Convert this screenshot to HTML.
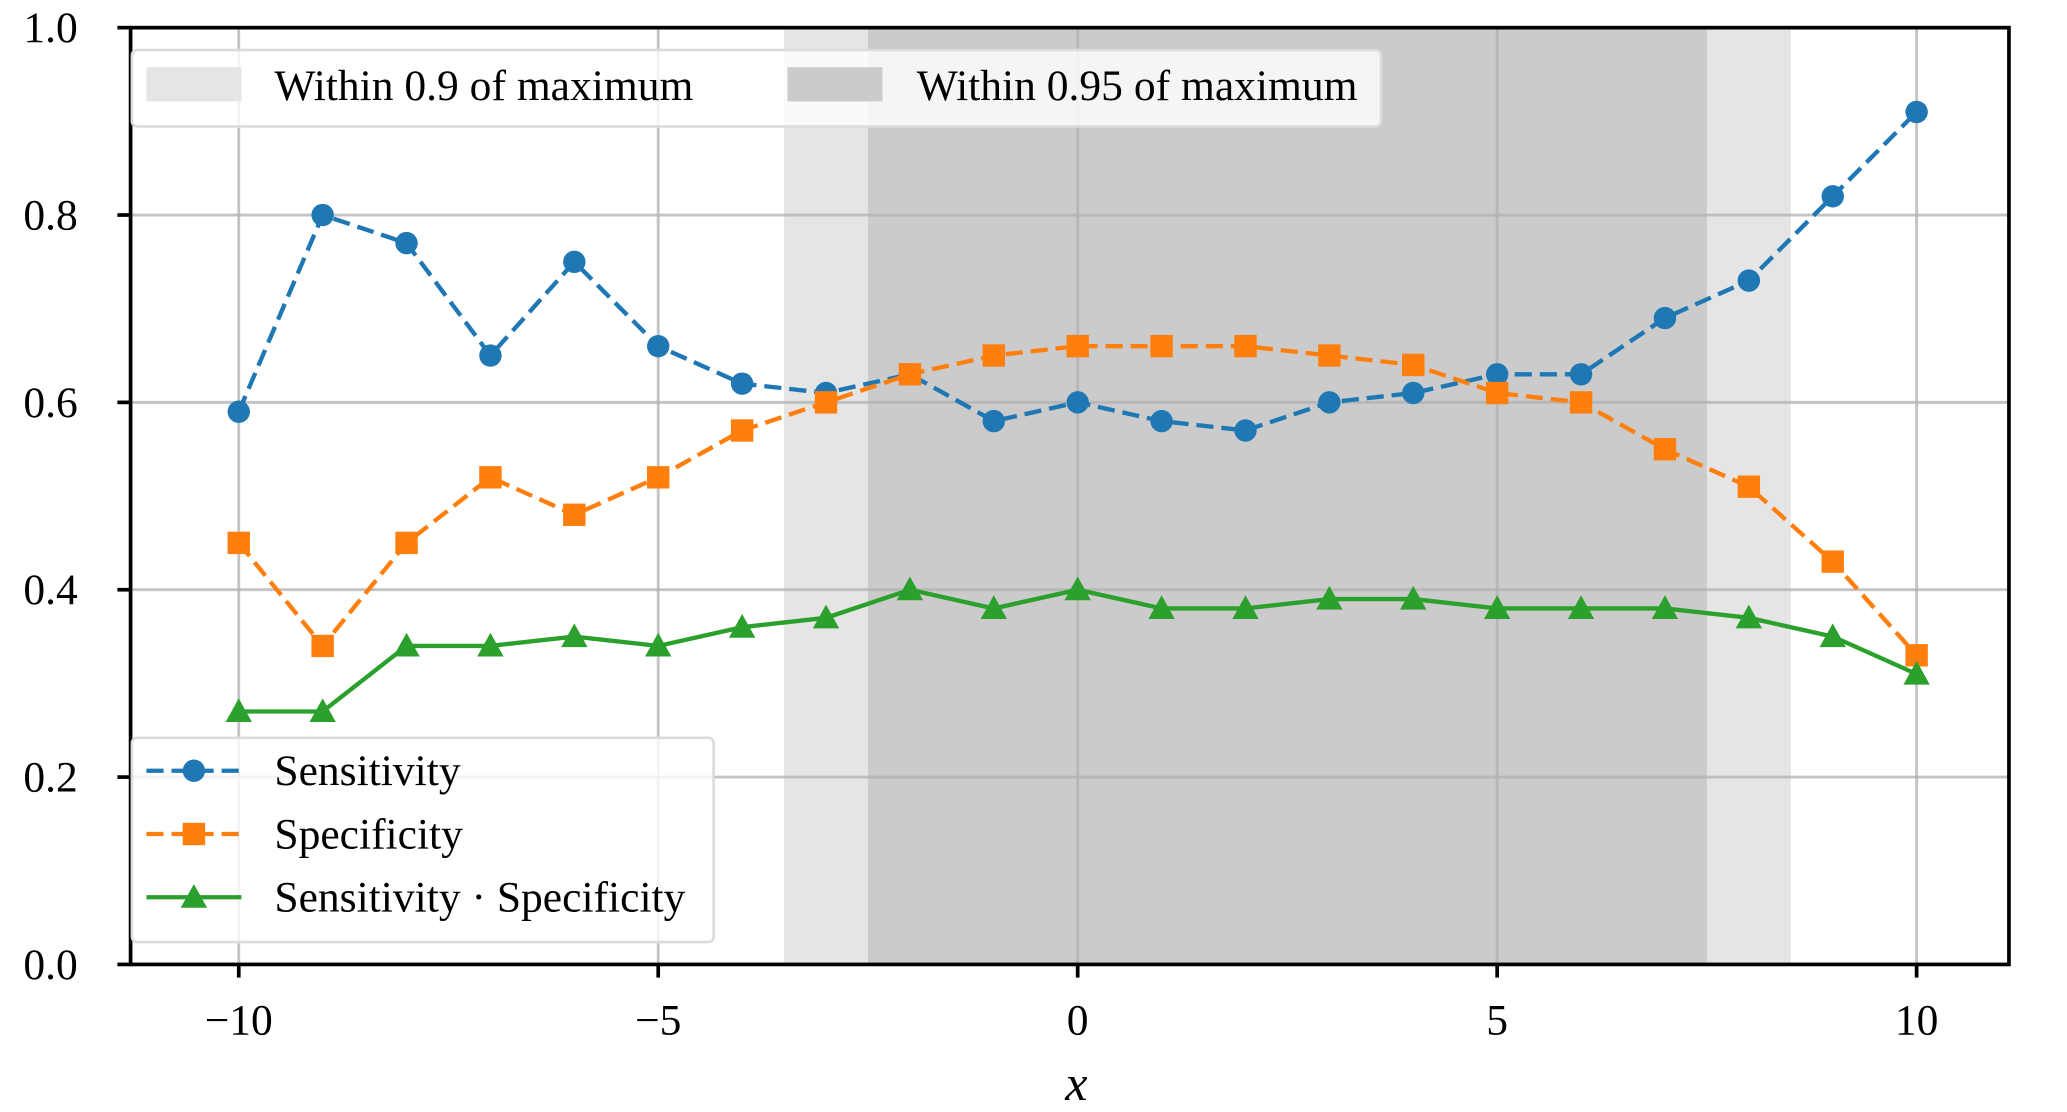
<!DOCTYPE html>
<html><head><meta charset="utf-8"><style>
html,body{margin:0;padding:0;background:#fff}
svg{display:block}
text{font-family:"Liberation Serif",serif;fill:#000}
</style></head><body>
<svg id="chart" width="2067" height="1112" viewBox="0 0 1567 844" preserveAspectRatio="none" xmlns="http://www.w3.org/2000/svg">
<g id="plot"></g>
</svg>
<script>
const xs = [-10,-9,-8,-7,-6,-5,-4,-3,-2,-1,0,1,2,3,4,5,6,7,8,9,10];
const sensitivity = [0.59,0.80,0.77,0.65,0.75,0.66,0.62,0.61,0.63,0.58,0.60,0.58,0.57,0.60,0.61,0.63,0.63,0.69,0.73,0.82,0.91];
const specificity = [0.45,0.34,0.45,0.52,0.48,0.52,0.57,0.60,0.63,0.65,0.66,0.66,0.66,0.65,0.64,0.61,0.60,0.55,0.51,0.43,0.33];
const product = [0.27,0.27,0.34,0.34,0.35,0.34,0.36,0.37,0.40,0.38,0.40,0.38,0.38,0.39,0.39,0.38,0.38,0.38,0.37,0.35,0.31];
const xTicks = [-10,-5,0,5,10];
const xTickLabels = ["\u221210","\u22125","0","5","10"];
const yTicks = [0,0.2,0.4,0.6,0.8,1.0];
const yTickLabels = ["0.0","0.2","0.4","0.6","0.8","1.0"];
const span90 = [-3.5,8.5];
const span95 = [-2.5,7.5];

const L=99,R=1523,T=21,B=732;
const X=v=>181+(v+10)*(1453-181)/20;
const Y=v=>B-(v)*(B-T);
const g=document.getElementById('plot');
const NS='http://www.w3.org/2000/svg';
function mk(tag,attrs,parent){const e=document.createElementNS(NS,tag);for(const k in attrs)e.setAttribute(k,attrs[k]);(parent||g).appendChild(e);return e;}

let e;
e=mk('rect',{x:X(span90[0]),y:T,width:X(span90[1])-X(span90[0]),height:B-T,fill:'#e5e5e5'});


e=mk('rect',{x:X(span95[0]),y:T,width:X(span95[1])-X(span95[0]),height:B-T,fill:'#cbcbcb'});



xTicks.forEach((t,i)=>{
  e=mk('line',{x1:X(t),x2:X(t),y1:T,y2:B,stroke:'#b0b0b0','stroke-opacity':0.75,'stroke-width':2.2});
  
  
  mk('line',{x1:X(t),x2:X(t),y1:B,y2:B+10,stroke:'#000','stroke-width':2.8});
  e=mk('text',{x:X(t),y:B+53,'font-size':33,'text-anchor':'middle'});e.textContent=xTickLabels[i];
  
  
});
yTicks.forEach((t,i)=>{
  e=mk('line',{x1:L,x2:R,y1:Y(t),y2:Y(t),stroke:'#b0b0b0','stroke-opacity':0.75,'stroke-width':2.2});
  
  
  mk('line',{x1:L-10,x2:L,y1:Y(t),y2:Y(t),stroke:'#000','stroke-width':2.8});
  e=mk('text',{x:L-40,y:Y(t)+11,'font-size':33,'text-anchor':'end'});e.textContent=yTickLabels[i];
  
  
});

function series(vals,color,dash,marker,name){
  const pts=vals.map((v,i)=>X(xs[i])+','+Y(v)).join(' ');
  let s=mk('polyline',{points:pts,fill:'none',stroke:color,'stroke-width':3.3,'stroke-dasharray':dash||'none'});
  
  
  vals.forEach((v,i)=>{
    const m=drawMarker(marker,X(xs[i]),Y(v),color);
    
    
  });
}
function drawMarker(type,x,y,c){
  if(type==='o')return mk('circle',{cx:x,cy:y,r:8.5,fill:c});
  if(type==='s')return mk('rect',{x:x-8.5,y:y-8.5,width:17,height:17,fill:c});
  return mk('polygon',{points:`${x},${y-10} ${x+10},${y+8} ${x-10},${y+8}`,fill:c});
}
series(sensitivity,'#1f77b4','13 6','o','sensitivity');
series(specificity,'#ff7f0e','13 6','s','specificity');
series(product,'#2ca02c',null,'^','product');

e=mk('rect',{x:L,y:T,width:R-L,height:B-T,fill:'none',stroke:'#000','stroke-width':2.8});



const lt=mk('g',{});


mk('rect',{x:100,y:38,width:947,height:58,rx:4,fill:'#fff','fill-opacity':0.8,stroke:'#dcdcdc','stroke-width':2},lt);
mk('rect',{x:111,y:51,width:72,height:26,fill:'#e5e5e5'},lt);
e=mk('text',{x:208,y:76,'font-size':33},lt);e.textContent='Within 0.9 of maximum';
mk('rect',{x:597,y:51,width:72,height:26,fill:'#cbcbcb'},lt);
e=mk('text',{x:695,y:76,'font-size':33},lt);e.textContent='Within 0.95 of maximum';

const lb=mk('g',{});


mk('rect',{x:100,y:560,width:441,height:155,rx:4,fill:'#fff','fill-opacity':0.8,stroke:'#dcdcdc','stroke-width':2},lb);
const items=[['Sensitivity','#1f77b4','13 6','o',585],['Specificity','#ff7f0e','13 6','s',633],['Sensitivity \u00b7 Specificity','#2ca02c',null,'^',681]];
items.forEach(it=>{
  mk('line',{x1:111,x2:183,y1:it[4],y2:it[4],stroke:it[1],'stroke-width':3.3,'stroke-dasharray':it[2]||'none'},lb);
  const m=drawMarker(it[3],147,it[4],it[1]);lb.appendChild(m);
  const t=mk('text',{x:208,y:it[4]+11,'font-size':33},lb);t.textContent=it[0];
});

e=mk('text',{x:816,y:835,'font-size':38,'font-style':'italic','text-anchor':'middle'});e.textContent='x';


</script>
</body></html>
